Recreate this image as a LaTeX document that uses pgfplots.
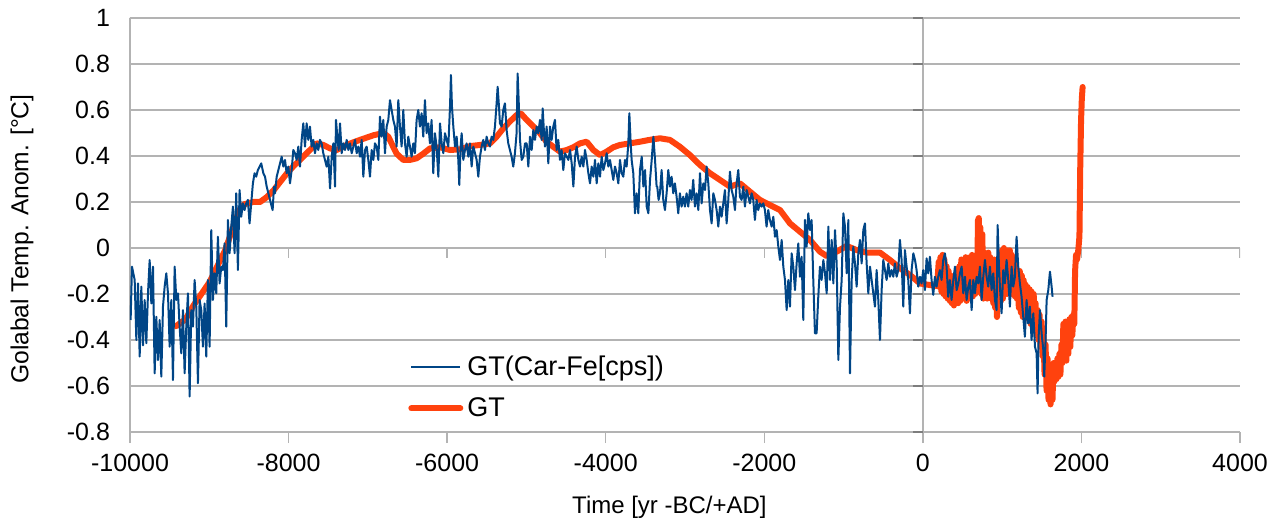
\documentclass[border=0pt]{standalone}
\usepackage{fontspec}
\setmainfont{Liberation Sans}
\usepackage{pgfplots}
\usepackage{pgfplotstable}
\pgfplotsset{compat=1.18}
\definecolor{loblue}{HTML}{004586}
\definecolor{loorange}{HTML}{FF420E}
\definecolor{gridgray}{HTML}{B3B3B3}

\pgfplotstableread{
year val
-9992 -0.313
-9975 -0.081
-9941 -0.139
-9920 -0.400
-9899 -0.154
-9878 -0.472
-9857 -0.168
-9836 -0.423
-9815 -0.226
-9794 -0.414
-9773 -0.197
-9752 -0.052
-9731 -0.241
-9710 -0.081
-9689 -0.545
-9668 -0.299
-9647 -0.487
-9626 -0.313
-9605 -0.559
-9584 -0.255
-9563 -0.168
-9542 -0.110
-9521 -0.197
-9500 -0.429
-9479 -0.226
-9458 -0.574
-9437 -0.081
-9416 -0.226
-9395 -0.197
-9374 -0.342
-9353 -0.458
-9332 -0.270
-9311 -0.545
-9290 -0.342
-9269 -0.197
-9248 -0.646
-9227 -0.270
-9206 -0.342
-9185 -0.139
-9164 -0.255
-9143 -0.588
-9122 -0.226
-9101 -0.270
-9080 -0.429
-9059 -0.241
-9038 -0.472
-9017 -0.139
-8996 -0.429
-8975 0.078
-8954 -0.226
-8933 -0.110
-8912 -0.197
-8891 0.049
-8870 -0.154
-8849 -0.081
-8828 -0.096
-8807 0.020
-8786 -0.342
-8765 0.122
-8744 -0.023
-8723 0.093
-8702 0.180
-8681 -0.023
-8660 0.238
-8639 -0.096
-8618 0.252
-8597 0.136
-8576 0.194
-8555 0.165
-8534 0.194
-8513 0.209
-8492 0.107
-8471 0.194
-8450 0.281
-8429 0.325
-8408 0.310
-8387 0.339
-8345 0.368
-8318 0.325
-8297 0.310
-8276 0.267
-8255 0.238
-8234 0.209
-8213 0.180
-8201 0.165
-8184 0.267
-8171 0.238
-8150 0.310
-8129 0.339
-8108 0.368
-8087 0.397
-8066 0.354
-8045 0.383
-8024 0.325
-8003 0.354
-7982 0.281
-7961 0.339
-7940 0.426
-7919 0.412
-7898 0.383
-7877 0.441
-7856 0.354
-7835 0.470
-7814 0.542
-7793 0.441
-7772 0.542
-7751 0.470
-7730 0.528
-7709 0.441
-7688 0.470
-7667 0.412
-7646 0.455
-7625 0.426
-7604 0.470
-7583 0.455
-7562 0.412
-7541 0.383
-7520 0.354
-7498 0.397
-7477 0.259
-7456 0.397
-7435 0.455
-7414 0.267
-7402 0.557
-7385 0.484
-7368 0.426
-7351 0.542
-7330 0.412
-7309 0.455
-7288 0.426
-7267 0.470
-7246 0.426
-7225 0.455
-7204 0.412
-7183 0.441
-7162 0.470
-7141 0.412
-7120 0.441
-7099 0.397
-7078 0.470
-7057 0.310
-7036 0.426
-7015 0.441
-6994 0.383
-6973 0.310
-6952 0.426
-6931 0.383
-6910 0.455
-6889 0.441
-6868 0.383
-6847 0.571
-6826 0.484
-6805 0.557
-6784 0.412
-6763 0.528
-6742 0.557
-6721 0.643
-6700 0.600
-6679 0.557
-6658 0.528
-6637 0.441
-6616 0.643
-6595 0.528
-6574 0.441
-6553 0.600
-6532 0.455
-6511 0.397
-6490 0.484
-6469 0.441
-6448 0.397
-6427 0.455
-6406 0.412
-6385 0.557
-6364 0.600
-6343 0.528
-6322 0.586
-6301 0.484
-6280 0.643
-6259 0.499
-6238 0.542
-6217 0.455
-6196 0.557
-6175 0.325
-6154 0.499
-6133 0.441
-6111 0.310
-6090 0.542
-6069 0.455
-6048 0.412
-6027 0.499
-6006 0.470
-5985 0.441
-5964 0.614
-5952 0.752
-5939 0.614
-5922 0.528
-5901 0.441
-5880 0.484
-5859 0.383
-5847 0.274
-5830 0.441
-5817 0.499
-5796 0.383
-5775 0.426
-5754 0.455
-5733 0.397
-5712 0.455
-5691 0.354
-5670 0.441
-5649 0.412
-5628 0.383
-5607 0.310
-5586 0.397
-5565 0.441
-5544 0.470
-5523 0.426
-5502 0.484
-5481 0.455
-5460 0.441
-5439 0.484
-5418 0.470
-5397 0.528
-5376 0.629
-5363 0.701
-5346 0.614
-5334 0.542
-5313 0.528
-5292 0.600
-5271 0.629
-5250 0.513
-5229 0.455
-5208 0.426
-5187 0.397
-5166 0.354
-5145 0.412
-5124 0.499
-5111 0.759
-5098 0.643
-5081 0.470
-5060 0.383
-5039 0.397
-5018 0.455
-4997 0.455
-4976 0.354
-4955 0.484
-4934 0.426
-4913 0.513
-4892 0.470
-4871 0.528
-4850 0.499
-4829 0.557
-4808 0.470
-4795 0.607
-4778 0.499
-4766 0.441
-4745 0.528
-4724 0.368
-4703 0.528
-4682 0.470
-4661 0.528
-4640 0.557
-4619 0.426
-4598 0.470
-4577 0.383
-4556 0.426
-4535 0.339
-4514 0.412
-4492 0.397
-4471 0.383
-4450 0.426
-4429 0.368
-4408 0.267
-4387 0.397
-4366 0.441
-4345 0.383
-4324 0.354
-4303 0.397
-4282 0.354
-4261 0.426
-4240 0.383
-4219 0.325
-4198 0.281
-4177 0.354
-4156 0.310
-4135 0.383
-4114 0.281
-4093 0.368
-4072 0.310
-4051 0.397
-4030 0.339
-4009 0.368
-3988 0.412
-3967 0.354
-3946 0.383
-3925 0.339
-3904 0.296
-3883 0.354
-3862 0.325
-3841 0.281
-3820 0.383
-3799 0.325
-3778 0.310
-3757 0.383
-3736 0.354
-3715 0.455
-3702 0.586
-3685 0.455
-3673 0.383
-3652 0.325
-3631 0.151
-3610 0.238
-3589 0.151
-3568 0.339
-3546 0.397
-3525 0.267
-3504 0.339
-3483 0.180
-3462 0.151
-3441 0.296
-3420 0.383
-3399 0.484
-3378 0.383
-3358 0.267
-3350 0.267
-3333 0.209
-3316 0.238
-3295 0.339
-3274 0.209
-3253 0.165
-3232 0.238
-3211 0.339
-3190 0.267
-3169 0.310
-3148 0.238
-3127 0.281
-3106 0.223
-3085 0.151
-3064 0.238
-3043 0.180
-3022 0.223
-3001 0.180
-2980 0.238
-2959 0.180
-2938 0.252
-2917 0.209
-2896 0.296
-2875 0.180
-2853 0.238
-2832 0.165
-2811 0.325
-2790 0.194
-2769 0.281
-2748 0.252
-2727 0.354
-2706 0.281
-2685 0.165
-2664 0.107
-2643 0.238
-2622 0.209
-2601 0.165
-2580 0.093
-2559 0.180
-2538 0.136
-2517 0.194
-2496 0.252
-2475 0.107
-2454 0.209
-2433 0.332
-2412 0.252
-2391 0.223
-2370 0.165
-2349 0.281
-2328 0.339
-2307 0.223
-2286 0.209
-2265 0.267
-2244 0.180
-2223 0.252
-2202 0.223
-2181 0.194
-2160 0.238
-2139 0.209
-2118 0.122
-2097 0.209
-2076 0.165
-2055 0.194
-2034 0.180
-2013 0.194
-1992 0.165
-1971 0.093
-1950 0.165
-1929 0.122
-1907 0.093
-1886 0.136
-1865 0.049
-1844 0.078
-1823 0.006
-1802 -0.052
-1781 0.035
-1760 -0.081
-1739 -0.139
-1718 -0.270
-1697 -0.139
-1676 -0.255
-1655 -0.023
-1634 -0.081
-1613 -0.183
-1592 -0.067
-1571 0.020
-1550 -0.125
-1529 -0.038
-1508 -0.313
-1487 0.122
-1466 0.006
-1445 0.151
-1424 0.078
-1403 0.122
-1382 -0.139
-1361 -0.371
-1340 -0.371
-1319 -0.212
-1298 -0.081
-1277 -0.139
-1255 -0.052
-1234 -0.110
-1213 -0.197
-1192 0.093
-1171 -0.139
-1150 0.035
-1129 -0.154
-1108 0.078
-1087 -0.067
-1066 -0.487
-1045 -0.255
-1024 -0.139
-1003 0.151
-982 0.093
-961 -0.110
-940 0.122
-919 -0.545
-898 -0.139
-877 0.006
-856 -0.067
-835 -0.168
-814 -0.023
-793 0.035
-772 -0.067
-751 0.078
-730 0.107
-709 -0.067
-688 -0.197
-667 -0.081
-646 -0.139
-625 -0.197
-604 -0.255
-583 -0.096
-562 -0.226
-541 -0.400
-520 -0.183
-499 -0.052
-478 -0.096
-457 -0.139
-436 -0.067
-415 -0.125
-394 -0.096
-373 -0.125
-352 -0.067
-331 -0.125
-310 -0.096
-289 0.035
-268 -0.052
-247 -0.255
-226 -0.009
-205 -0.081
-184 -0.139
-163 -0.284
-142 -0.096
-120 -0.023
-99 -0.052
-79 -0.096
-58 -0.168
-37 -0.125
-16 -0.154
5 -0.096
26 -0.183
47 -0.045
68 -0.110
89 -0.038
110 -0.139
131 -0.204
152 -0.125
173 -0.168
194 -0.125
215 -0.096
236 -0.139
257 -0.052
278 -0.023
299 -0.081
320 -0.212
341 -0.139
362 -0.226
384 -0.139
405 -0.081
426 -0.183
447 -0.154
468 -0.110
489 -0.081
510 -0.197
531 -0.125
552 -0.226
573 -0.168
594 -0.139
615 -0.270
636 -0.139
657 -0.197
678 -0.125
699 -0.154
720 -0.081
741 -0.226
762 -0.125
783 -0.052
804 -0.125
825 -0.168
846 -0.081
867 -0.183
888 -0.110
909 -0.226
930 -0.270
943 0.100
960 -0.081
972 -0.168
993 -0.284
1014 -0.096
1035 -0.154
1056 -0.052
1077 -0.139
1098 -0.255
1119 -0.081
1140 -0.168
1161 -0.125
1182 0.049
1203 -0.081
1224 -0.154
1245 -0.212
1266 -0.299
1287 -0.386
1308 -0.226
1329 -0.328
1350 -0.255
1371 -0.400
1393 -0.284
1414 -0.429
1435 -0.458
1447 -0.632
1460 -0.386
1477 -0.270
1498 -0.371
1519 -0.443
1531 -0.559
1548 -0.400
1561 -0.226
1582 -0.183
1603 -0.103
1624 -0.168
1636 -0.212
}\bluedata

\pgfplotstableread{
year val
-9420 -0.34
-9300 -0.31
-9200 -0.25
-9100 -0.20
-9000 -0.15
-8900 -0.08
-8800 -0.01
-8700 0.09
-8620 0.165
-8560 0.19
-8450 0.20
-8360 0.20
-8280 0.22
-8190 0.25
-8100 0.29
-8020 0.325
-7940 0.355
-7856 0.383
-7730 0.426
-7646 0.455
-7562 0.448
-7477 0.433
-7393 0.426
-7267 0.448
-7180 0.46
-7099 0.47
-6931 0.49
-6805 0.50
-6742 0.484
-6680 0.44
-6637 0.41
-6553 0.383
-6469 0.383
-6385 0.39
-6301 0.41
-6217 0.433
-6090 0.438
-5964 0.426
-5838 0.429
-5712 0.443
-5586 0.448
-5460 0.455
-5376 0.484
-5292 0.52
-5208 0.55
-5124 0.578
-5070 0.585
-4997 0.557
-4913 0.528
-4829 0.499
-4745 0.462
-4661 0.44
-4577 0.419
-4492 0.426
-4408 0.438
-4324 0.455
-4240 0.462
-4156 0.426
-4072 0.404
-3988 0.419
-3904 0.438
-3820 0.448
-3694 0.455
-3568 0.462
-3450 0.47
-3316 0.477
-3190 0.47
-3064 0.44
-2938 0.404
-2811 0.361
-2685 0.325
-2559 0.296
-2433 0.267
-2307 0.281
-2181 0.245
-2055 0.209
-1929 0.187
-1802 0.165
-1676 0.107
-1550 0.071
-1424 0.035
-1298 -0.016
-1213 -0.035
-1087 -0.016
-961 0.009
-835 -0.009
-709 -0.02
-541 -0.02
-415 -0.052
-289 -0.088
-163 -0.117
-37 -0.154
89 -0.161
180 -0.165
200 -0.06
210 -0.17
222 -0.04
235 -0.19
248 -0.03
260 -0.20
272 -0.05
285 -0.21
300 -0.08
312 -0.22
325 -0.10
340 -0.23
352 -0.12
365 -0.24
380 -0.14
392 -0.25
405 -0.12
420 -0.24
432 -0.09
445 -0.24
460 -0.08
472 -0.23
485 -0.05
500 -0.22
512 -0.05
525 -0.22
540 -0.04
552 -0.23
565 -0.05
580 -0.22
592 -0.04
605 -0.20
620 -0.03
632 -0.21
645 -0.05
660 -0.20
672 -0.06
685 -0.15
695 0.12
705 0.13
715 -0.10
725 0.09
738 -0.20
750 0.06
762 -0.22
775 -0.02
788 -0.21
800 -0.04
812 -0.22
825 -0.02
838 -0.21
850 -0.04
862 -0.22
875 -0.06
888 -0.24
900 -0.05
912 -0.26
925 -0.06
935 -0.30
948 -0.08
960 -0.24
972 -0.03
985 -0.23
998 -0.01
1010 -0.22
1022 0.0
1035 -0.20
1048 -0.02
1060 -0.20
1072 -0.01
1085 -0.19
1098 -0.01
1110 -0.20
1122 -0.03
1135 -0.20
1148 -0.05
1160 -0.21
1172 -0.08
1185 -0.22
1198 -0.10
1210 -0.26
1222 -0.10
1235 -0.28
1248 -0.12
1260 -0.30
1272 -0.14
1285 -0.29
1298 -0.16
1310 -0.30
1322 -0.17
1335 -0.31
1348 -0.18
1360 -0.33
1372 -0.19
1385 -0.34
1398 -0.20
1410 -0.36
1422 -0.24
1435 -0.38
1448 -0.27
1460 -0.40
1472 -0.29
1485 -0.43
1498 -0.32
1510 -0.47
1522 -0.38
1535 -0.55
1548 -0.42
1560 -0.62
1572 -0.48
1585 -0.66
1598 -0.52
1610 -0.68
1622 -0.53
1635 -0.66
1648 -0.50
1660 -0.58
1672 -0.50
1685 -0.57
1698 -0.48
1710 -0.56
1722 -0.46
1735 -0.55
1748 -0.42
1760 -0.50
1772 -0.33
1785 -0.48
1798 -0.32
1810 -0.49
1822 -0.34
1835 -0.46
1848 -0.31
1860 -0.43
1872 -0.30
1885 -0.38
1898 -0.29
1910 -0.33
1920 -0.10
1932 -0.03
1945 -0.05
1960 -0.01
1975 0.05
1985 0.35
1995 0.55
2005 0.65
2015 0.70
}\orangedata

\begin{document}
\begin{tikzpicture}
\begin{axis}[
  at={(0,0)}, anchor=south west,
  scale only axis, width=555bp, height=207bp,
  xmin=-10000, xmax=4000, ymin=-0.8, ymax=1,
  xtick={-10000,-8000,-6000,-4000,-2000,0,2000,4000},
  ytick={-0.8,-0.6,-0.4,-0.2,0,0.2,0.4,0.6,0.8,1},
  scaled x ticks=false,
  /pgf/number format/.cd, 1000 sep={}, assume math mode=true,
  /pgfplots/.cd,
  axis x line*=bottom, axis y line*=left,
  axis line style={draw=gridgray, line width=0.75bp, -},
  tick align=outside, major tick length=5.5bp,
  xtick style={draw=gridgray, line width=0.75bp},
  ytick style={draw=none},
  ymajorgrids, grid style={draw=gridgray, line width=0.75bp},
  ticklabel style={font=\fontsize{12.5bp}{15bp}\selectfont, text=black},
  xticklabel style={yshift=-2bp},
  yticklabel style={xshift=-1bp},
  xlabel={Time [yr -BC/+AD]},
  ylabel={Golabal Temp. Anom. [°C]},
  every axis x label/.style={at={(axis description cs:0.486,0)}, anchor=center, yshift=-37.5bp,
    font=\fontsize{12bp}{14bp}\selectfont},
  every axis y label/.style={at={(axis description cs:-0.0973,0.466)}, rotate=90, anchor=center,
    font=\fontsize{12.3bp}{14bp}\selectfont},
  legend style={draw=none, fill=none, at={(axis description cs:0.245,0.204)}, anchor=north west,
    font=\fontsize{13.5bp}{16bp}\selectfont, row sep=5.5bp},
  legend cell align=left,
  reverse legend,
  legend image code/.code={\draw[#1] (0bp,0bp) -- (24.5bp,0bp);},
]
\draw[gridgray, line width=0.75bp] (axis cs:0,-0.8) -- (axis cs:0,1);
\pgfplotsinvokeforeach{-0.8,-0.6,-0.4,-0.2,0,0.2,0.4,0.6,0.8,1}{
  \draw[gridgray, line width=0.75bp] (axis cs:-10000,#1) -- ++(-2.5bp,0bp);
  \draw[gridgray!70!black, line width=0.75bp] (axis cs:0,#1) -- ++(-5bp,0bp);
}
\pgfplotsinvokeforeach{-10000,-8000,-6000,-4000,-2000,0,2000,4000}{
  \draw[gridgray, line width=0.75bp] (axis cs:#1,0) -- ++(0bp,-5bp);
}
\addplot[loorange, line width=3bp, line join=round, line cap=round] table[x=year, y=val] {\orangedata};
\addlegendentry{GT}
\addplot[loblue, line width=1bp, line join=round] table[x=year, y=val] {\bluedata};
\addlegendentry{GT(Car-Fe[cps])}
\end{axis}
\pgfresetboundingbox
\path[use as bounding box] (-65bp,-46.5bp) rectangle (574.5bp,216bp);
\end{tikzpicture}
\end{document}
